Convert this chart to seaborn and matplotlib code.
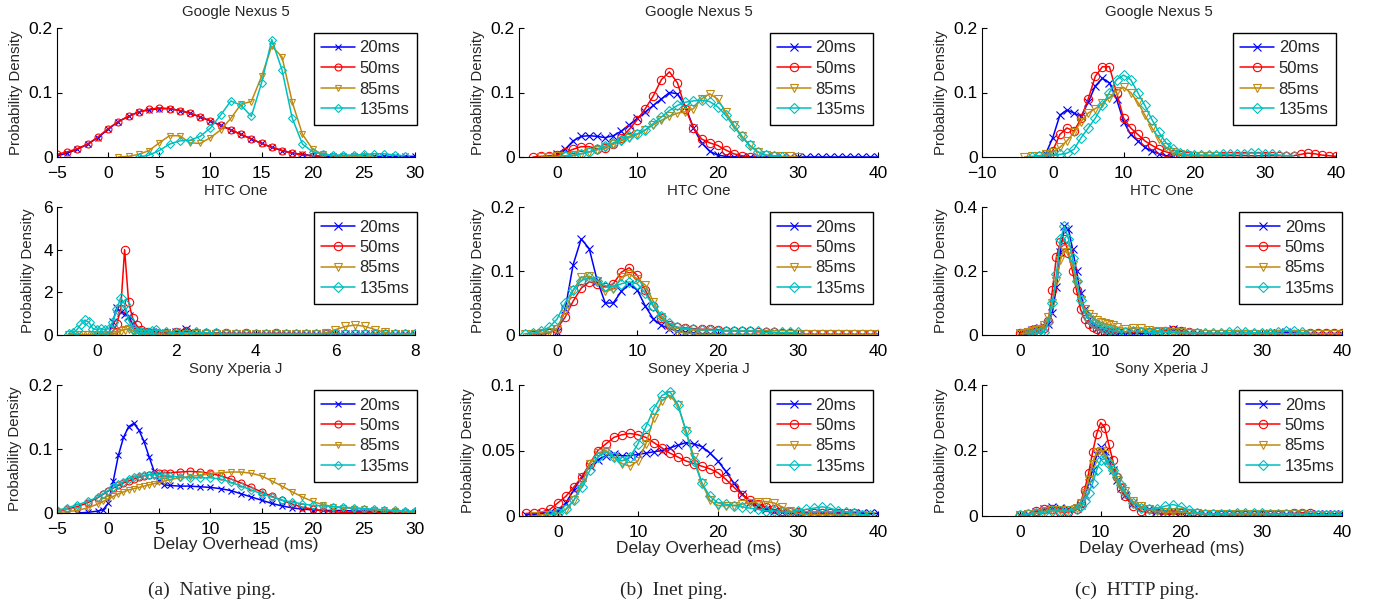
import numpy as np
import pandas as pd
import matplotlib
matplotlib.use("Agg")
import matplotlib.pyplot as plt
import seaborn as sns
from matplotlib.ticker import FixedLocator, FuncFormatter

sns.set_style("ticks")
plt.rcParams['font.family'] = ['Liberation Sans', 'DejaVu Sans']
plt.rcParams['axes.unicode_minus'] = True

N = None
series_labels = ["20ms", "50ms", "85ms", "135ms"]
series_colors = ["#0000FF", "#FF0000", "#BF8A0F", "#00BFBF"]
series_markers = ["x", "o", "v", "D"]

# ---------------- (a) Native ping ----------------
nat_nexus_x = list(np.arange(-5, 31))
nat_nexus_20 = [.002, .006, .012, .02, .03, .043, .055, .063, .07, .073, .075, .075, .072, .068, .062, .056,
                .049, .042, .035, .028, .021, .015, .01, .006, .004, .002, .001] + [.001] * 9
nat_nexus_50 = [.004, .008, .013, .02, .031, .044, .055, .063, .07, .074, .076, .075, .072, .068, .062, .056,
                .049, .042, .035, .028, .021, .015, .01, .006, .003, .002, .001] + [N] * 9
nat_nexus_85 = [N] * 6 + [0.0, .001, .004, .01, .022, .033, .033, .022, .021, .03, .042, .06, .082, .086, .125,
                          .172, .155, .085, .035, .012, .004, .002, .001, .001, .001, .001] + [N] * 4
nat_nexus_135 = [N] * 8 + [0.0, .003, .01, .02, .025, .026, .032, .045, .065, .087, .08, .063, .115, .182, .135,
                           .06, .02, .008, .004, .003, .003, .003, .004, .005, .005, .003, .002] + [N]

nat_htc_x = [-0.7, -0.6, -0.5, -0.4, -0.3, -0.2, -0.1, 0.0, 0.1, 0.2, 0.3, 0.4, 0.5, 0.6, 0.7, 0.8, 0.9, 1.0,
             1.1, 1.2, 1.3, 1.4, 1.5, 1.75, 2.0, 2.25, 2.5, 2.75, 3.0, 3.25, 3.5, 3.75, 4.0, 4.25, 4.5, 4.75,
             5.0, 5.25, 5.5, 5.75, 6.0, 6.25, 6.5, 6.75, 7.0, 7.25, 7.5, 7.75, 8.0]
nat_htc_20 = [N] * 10 + [.05, .6, 1.25, 1.1, 1.0, .9, .5, .2, .1, .08, .1, .15, .1] + \
             [.1, .12, .3, .1, .05] + [.05] * 21
nat_htc_50 = [N] * 9 + [0.0, .02, .15, .5, 1.2, 4.0, 1.55, .8, .45, .25, .15, .12, .1, .1] + \
             [.1, .12, .18, .1, .08, .1, .08, .07, .08, .07, .07, .08, .07, .07, .07, .06, .06, .06, .06,
              .06, .06, .07, .06, .06, .07, .06]
nat_htc_85 = [.02] * 12 + [.1, .2, .25, .28, .2, .1, .05, .05, .05, .05, .05] + \
             [.04] * 16 + [.1, .25, .4, .47, .4, .25, .12, .06, .04, .03]
nat_htc_135 = [.05, .1, .25, .5, .7, .6, .3, .25, .3, .25, .3, .6, 1.2, 1.75, 1.45, .7, .3, .15, .12, .1, .1,
               .2, .25] + [.15, .1, .1, .12, .1, .08] + [.06] * 20

nat_sony_x = [-5, -4, -3, -2, -1, -0.5, 0, 0.5, 1, 1.5, 2, 2.5, 3, 3.5, 4, 4.5, 5, 5.5, 6] + list(np.arange(7, 31))
nat_sony_20 = [N, N, 0.0, .001, .003, .005, .015, .05, .09, .118, .135, .14, .13, .112, .088, .065, .05, .044,
               .043, .042, .042, .041, .04, .038, .035, .03, .025, .02, .015, .011, .008, .006, .005, .004,
               .004, .004, .003, .003, .003, .002, .002, .002, .001]
nat_sony_50 = [.003, .006, .01, .016, .024, .029, .034, .039, .043, .047, .05, .053, .056, .058, .06, .061, .062,
               .063, .063, .064, .065, .064, .062, .058, .053, .047, .04, .033, .026, .02, .014, .009, .006,
               .003, .002, .001] + [.001] * 7
nat_sony_85 = [.001, .002, .004, .008, .014, .018, .022, .026, .03, .033, .036, .038, .04, .042, .044, .046, .048,
               .05, .052, .055, .057, .059, .061, .063, .064, .064, .062, .058, .05, .042, .033, .025, .018,
               .013, .01, .008, .007, .006, .005, .004, .003, .002, .001]
nat_sony_135 = [.004, .008, .013, .018, .025, .03, .035, .04, .045, .049, .053, .056, .058, .059, .06, .06, .06,
                .059, .058, .056, .055, .055, .055, .053, .048, .042, .036, .03, .025, .02, .017, .014, .012,
                .011, .01, .009, .008, .007, .006, .005, .004, .003, .003]

# ---------------- (b) Inet ping ----------------
inet_nexus_x = list(np.arange(-3, 41))
inet_nexus_20 = [N] * 3 + [.005, .012, .025, .032, .033, .032, .03, .033, .04, .05, .06, .07, .08, .09, .1, .098,
                           .078, .045, .022, .009, .003, .001] + [0.0] * 19
inet_nexus_50 = [0.0, .001, .002, .003, .007, .012, .016, .016, .013, .014, .02, .03, .043, .058, .075, .095, .12,
                 .132, .115, .075, .045, .028, .022, .018, .011, .005, .002, 0.0] + [N] * 16
inet_nexus_85 = [N] + [0.0, .0005, .001, .002, .003, .005, .008, .011, .015, .02, .025, .03, .035, .042, .05,
                       .057, .063, .068, .07, .075, .09, .098, .09, .07, .05, .033, .018, .008, .003, .002, .001,
                       .001, 0.0] + [N] * 10
inet_nexus_135 = [N] * 4 + [.001, .002, .005, .008, .012, .017, .022, .027, .032, .036, .042, .052, .062, .072,
                            .08, .085, .087, .088, .086, .078, .065, .048, .032, .018, .008, .003, .001, 0.0] + [N] * 12

inet_htc_x = list(np.arange(-4, 41))
inet_htc_20 = [N] * 4 + [.005, .04, .11, .15, .135, .085, .05, .05, .068, .08, .07, .045, .025, .015, .01, .006,
                         .004, .003, .002, .002, .001] + [0.0] * 20
inet_htc_50 = [N] + [0.0, .001, .003, .01, .028, .053, .073, .083, .08, .075, .08, .098, .105, .093, .07, .045,
                     .026, .016, .012, .011, .01, .009, .009, .008, .007, .007, .006, .006, .005, .005, .004,
                     .003, .003, .002] + [.001] * 10
inet_htc_85 = [.002, .002, .003, .004, .01, .038, .07, .09, .092, .085, .068, .072, .09, .095, .088, .078, .052,
               .028, .013, .005, .003, .002] + [.001] * 23
inet_htc_135 = [.002, .003, .006, .012, .025, .05, .07, .085, .09, .085, .077, .075, .08, .083, .08, .065, .045,
                .03, .018, .012, .01, .009, .008, .008, .007] + [.006] * 5 + [.004] * 5 + [N] * 10

inet_sony_x = list(np.arange(-4, 41))
inet_sony_20 = [.001, .001, .002, .003, .004, .01, .02, .03, .038, .043, .046, .047, .046, .046, .047, .048, .049,
                .05, .052, .054, .056, .055, .053, .048, .042, .034, .025, .017, .011, .007, .005, .004,
                .003] + [.002] * 12
inet_sony_50 = [.002, .002, .003, .005, .01, .015, .022, .03, .04, .05, .055, .06, .062, .063, .062, .06, .056,
                .052, .048, .045, .042, .04, .038, .036, .033, .028, .022, .016, .012, .009, .007, .005, .004,
                .003, .003] + [.002] * 7 + [.001, N, N]
inet_sony_85 = [N] + [0.0, .001, .001, .002, .005, .012, .025, .04, .048, .05, .045, .04, .038, .042, .055, .075,
                      .088, .092, .085, .065, .045, .025, .012, .008, .008, .008, .009, .01, .011, .011, .01,
                      .007, .004, .002] + [.001] * 8 + [0.0, N]
inet_sony_135 = [N] * 3 + [.001, .002, .005, .012, .022, .035, .045, .049, .045, .042, .045, .055, .068, .082,
                           .092, .095, .085, .065, .042, .025, .015, .01, .009, .008, .007, .006, .005, .004,
                           .004, .003, .003, .004, .005, .006, .007, .006, .004, .003, .002, .001, .001] + [N]

# ---------------- (c) HTTP ping ----------------
http_nexus_x = list(np.arange(-4, 41))
http_nexus_20 = [N] * 3 + [.005, .03, .065, .073, .068, .063, .085, .11, .122, .115, .09, .055, .035, .025, .015,
                           .009, .005, .002, .001] + [N] * 23
http_nexus_50 = [N] * 3 + [0.0, .01, .035, .045, .04, .06, .09, .125, .14, .14, .1, .06, .045, .035, .025, .018,
                           .012, .008, .005, .003] + [.002] * 16 + [.004, .006, .005, .003, .002, .001]
http_nexus_85 = [0.0, .001, .002, .004, .008, .015, .025, .038, .055, .068, .075, .083, .092, .103, .108, .1,
                 .085, .065, .045, .028, .015, .008, .004, .003, .002, .002, .001, .001, 0.0] + [N] * 16
http_nexus_135 = [N] + [0.0, .001, .002, .003, .004, .006, .012, .03, .045, .06, .08, .1, .12, .127, .12, .1,
                        .08, .058, .038, .022, .012, .006, .004, .003, .003, .003, .003, .004, .004, .005, .005,
                        .006, .006, .005, .004, .003, .002, .002] + [N] * 6

http_htc_x = list(np.arange(0, 12.5, 0.5)) + list(np.arange(13, 41))
http_htc_20 = [.005, .007, .01, .015, .02, .023, .025, .035, .07, .15, .26, .34, .33, .27, .2, .13, .08, .05,
               .035, .022, .015, .01, .008, .007, .006] + \
              [.006, .006, .005, .006, .008, .014, .02, .012, .007, .005] + [.004] * 7 + \
              [.004, .005, .006, .008, .006, .004] + [.003] * 5
http_htc_50 = [.005, .007, .01, .015, .02, .02, .022, .045, .14, .245, .29, .3, .255, .2, .14, .08, .05, .035,
               .025, .018, .013, .01, .009, .008, .008] + \
              [.008, .009, .008, .008, .01, .014, .017, .014, .008, .005] + [.004] * 13 + [.005] * 5
http_htc_85 = [.003, .005, .008, .012, .016, .02, .03, .055, .1, .17, .235, .27, .26, .22, .16, .11, .08, .065,
               .055, .047, .04, .036, .033, .03, .025] + \
              [.02, .022, .022, .016, .013, .011, .01, .009, .007, .005] + [.004] * 18
http_htc_135 = [N, N, .003, .004, .005, .006, .01, .04, .1, .19, .3, .34, .3, .24, .17, .11, .07, .05, .038, .03,
                .025, .02, .015, .012, .01] + \
               [.01, .012, .01, .008, .008, .008, .007, .006] + [.006] * 5 + \
               [.008, .011, .009, .007, .006, .007, .009, .013, .011, .008, .004] + [N] * 4

http_sony_x = list(np.arange(0, 8)) + list(np.arange(7.5, 13.5, 0.5)) + list(np.arange(14, 41))
http_sony_20 = [.002, .005, .012, .022, .028, .025, .02, .025] + \
               [.035, .06, .1, .14, .185, .21, .2, .17, .14, .11, .085, .065] + \
               [.04, .028, .02, .016, .015, .015, .013, .01, .008, .006, .005] + [.005] * 16
http_sony_50 = [.003, .007, .015, .022, .02, .012, .012, .02] + \
               [.04, .08, .13, .195, .25, .285, .27, .22, .17, .12, .085, .06] + \
               [.03, .015, .01, .008, .006, .006, .008, .009, .008, .006, .005, .004] + [.003] * 7 + \
               [.005, .008, .01, .008, .004, .003, .002, .002]
http_sony_85 = [.002, .006, .01, .015, .018, .018, .018, .025] + \
               [.04, .07, .11, .16, .195, .2, .19, .16, .135, .11, .09, .075] + \
               [.045, .03, .02, .015, .012, .012, .012, .01, .008, .006, .005, .005] + \
               [.006] * 5 + [.005] * 5 + [.004] * 5
http_sony_135 = [.002, .005, .008, .012, .015, .015, .015, .02] + \
                [.03, .045, .07, .1, .14, .17, .175, .16, .14, .12, .095, .07] + \
                [.04, .025, .02, .022, .03, .035, .028, .018, .01, .007, .006, .006, .007] + \
                [.008] * 4 + [.006] * 5 + [.004] * 5

W, H = 1375, 610
fig = plt.figure(figsize=(W / 100, H / 100), dpi=100)

titles = ["Google Nexus 5", "HTC One", "Sony Xperia J",
          "Google Nexus 5", "HTC One", "Soney Xperia J",
          "Google Nexus 5", "HTC One", "Sony Xperia J"]

panels = [
    # (a)
    dict(x=nat_nexus_x, s=[nat_nexus_20, nat_nexus_50, nat_nexus_85, nat_nexus_135], title=titles[0],
         xlim=(-5, 30), xt=[-5, 0, 5, 10, 15, 20, 25, 30], ylim=(0, 0.2), yt=[0, 0.1, 0.2],
         pos=(57, 415, 28, 157), ylx=-0.095, leg=417, ms=5),
    dict(x=nat_htc_x, s=[nat_htc_20, nat_htc_50, nat_htc_85, nat_htc_135], title=titles[1],
         xlim=(-1, 8), xt=[0, 2, 4, 6, 8], ylim=(0, 6), yt=[0, 2, 4, 6],
         pos=(57, 415, 207, 335), ylx=-0.061, leg=417, ms=6),
    dict(x=nat_sony_x, s=[nat_sony_20, nat_sony_50, nat_sony_85, nat_sony_135], title=titles[2],
         xlim=(-5, 30), xt=[-5, 0, 5, 10, 15, 20, 25, 30], ylim=(0, 0.2), yt=[0, 0.1, 0.2],
         pos=(57, 415, 385, 513), ylx=-0.098, leg=417, ms=5),
    # (b)
    dict(x=inet_nexus_x, s=[inet_nexus_20, inet_nexus_50, inet_nexus_85, inet_nexus_135], title=titles[3],
         xlim=(-4.75, 40), xt=[0, 10, 20, 30, 40], ylim=(0, 0.2), yt=[0, 0.1, 0.2],
         pos=(519, 878, 28, 157), ylx=-0.095, leg=873, ms=6),
    dict(x=inet_htc_x, s=[inet_htc_20, inet_htc_50, inet_htc_85, inet_htc_135], title=titles[4],
         xlim=(-4.75, 40), xt=[0, 10, 20, 30, 40], ylim=(0, 0.2), yt=[0, 0.1, 0.2],
         pos=(519, 878, 207, 335), ylx=-0.095, leg=873, ms=6),
    dict(x=inet_sony_x, s=[inet_sony_20, inet_sony_50, inet_sony_85, inet_sony_135], title=titles[5],
         xlim=(-4.85, 40), xt=[0, 10, 20, 30, 40], ylim=(0, 0.1), yt=[0, 0.05, 0.1],
         pos=(519, 878, 385, 516), ylx=-0.123, leg=873, ms=6),
    # (c)
    dict(x=http_nexus_x, s=[http_nexus_20, http_nexus_50, http_nexus_85, http_nexus_135], title=titles[6],
         xlim=(-10, 40), xt=[-10, 0, 10, 20, 30, 40], ylim=(0, 0.2), yt=[0, 0.1, 0.2],
         pos=(982, 1336, 28, 157), ylx=-0.095, leg=1336, ms=6),
    dict(x=http_htc_x, s=[http_htc_20, http_htc_50, http_htc_85, http_htc_135], title=titles[7],
         xlim=(-4.75, 40), xt=[0, 10, 20, 30, 40], ylim=(0, 0.4), yt=[0, 0.2, 0.4],
         pos=(982, 1342, 207, 335), ylx=-0.095, leg=1342, ms=6),
    dict(x=http_sony_x, s=[http_sony_20, http_sony_50, http_sony_85, http_sony_135], title=titles[8],
         xlim=(-4.75, 40), xt=[0, 10, 20, 30, 40], ylim=(0, 0.4), yt=[0, 0.2, 0.4],
         pos=(982, 1342, 385, 516), ylx=-0.095, leg=1342, ms=6),
]


def fmt(v, pos):
    return f"{v:g}".replace('-', '\u2212')


for i, p in enumerate(panels):
    l, r, t, b = p['pos']
    ax = fig.add_axes([l / W, 1 - b / H, (r - l) / W, (b - t) / H])
    xs = np.array(p['x'], dtype=float)
    for lab, col, mk, ys in zip(series_labels, series_colors, series_markers, p['s']):
        ys = np.array(ys, dtype=float)
        assert len(ys) == len(xs), (p['title'], lab, len(ys), len(xs))
        df = pd.DataFrame({'x': xs, 'y': ys}).dropna()
        ms = p['ms'] - (0.8 if mk == 'D' else 0)
        sns.lineplot(data=df, x='x', y='y', ax=ax, color=col, marker=mk, markersize=ms,
                     markeredgecolor=col, markerfacecolor='none', markeredgewidth=0.8,
                     linewidth=1.1, estimator=None, sort=False, legend=False)
    ax.set_xlim(*p['xlim'])
    ax.set_ylim(*p['ylim'])
    ax.xaxis.set_major_locator(FixedLocator(p['xt']))
    ax.yaxis.set_major_locator(FixedLocator(p['yt']))
    ax.xaxis.set_major_formatter(FuncFormatter(fmt))
    ax.yaxis.set_major_formatter(FuncFormatter(fmt))
    for side in ['top', 'right']:
        ax.spines[side].set_visible(False)
    for side in ['left', 'bottom']:
        ax.spines[side].set_linewidth(0.8)
        ax.spines[side].set_color('black')
    ax.tick_params(axis='both', direction='in', length=3.5, width=0.8, labelsize=12.5, colors='black')
    ax.tick_params(axis='x', pad=6.5)
    ax.tick_params(axis='y', pad=3)
    ax.set_title(p['title'], fontsize=10.8, pad=8.5)
    ax.set_ylabel("Probability Density", fontsize=10.8)
    ax.yaxis.set_label_coords(p['ylx'], 0.5)
    if i in (2, 5, 8):
        ax.set_xlabel("Delay Overhead (ms)", fontsize=12.5)
        ax.xaxis.set_label_coords(0.5, -0.19)
    else:
        ax.set_xlabel("")
    ax.set_facecolor('white')
    handles = ax.get_lines()[:4]
    leg_x = (p['leg'] - l) / (r - l)
    leg_y = (b - (t + 5)) / (b - t)
    legend = ax.legend(handles, series_labels, loc='upper right', bbox_to_anchor=(leg_x, leg_y),
                       borderaxespad=0, fontsize=12, frameon=True, fancybox=False, framealpha=1,
                       edgecolor='black', handlelength=2.0, handletextpad=0.3, labelspacing=0.33,
                       borderpad=0.45, numpoints=1)
    legend.get_frame().set_linewidth(1.0)

captions = [("(a)  Native ping.", 212), ("(b)  Inet ping.", 674), ("(c)  HTTP ping.", 1137)]
for txt, cx in captions:
    fig.text(cx / W, 1 - 590 / H, txt, ha='center', va='center', fontsize=14,
             family=['Liberation Serif', 'DejaVu Serif'])

fig.savefig("out.png", dpi=100, facecolor='white')
